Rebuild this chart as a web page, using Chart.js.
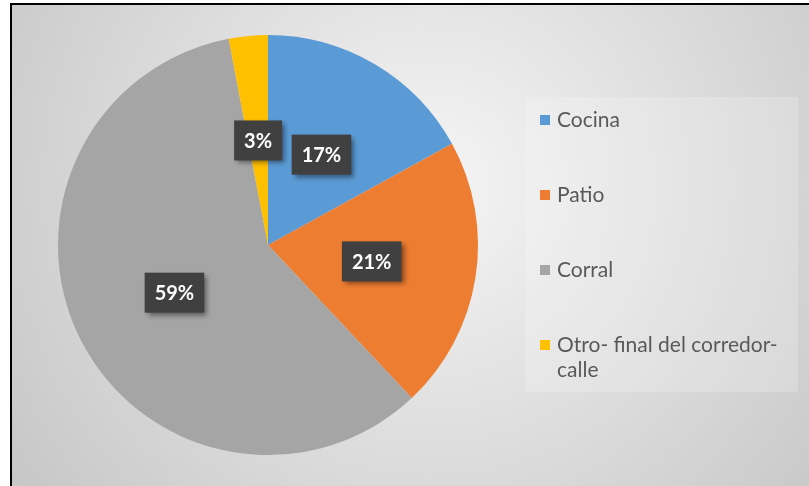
<!DOCTYPE html>
<html>
<head>
<meta charset="utf-8">
<script src="https://cdn.jsdelivr.net/npm/chart.js@4/dist/chart.umd.min.js"></script>
<style>
  html, body { margin: 0; padding: 0; background: #fff; }
  #marco {
    position: absolute; left: 10px; top: 3px;
    border-left: 2px solid #000; border-top: 2px solid #000;
    width: 797px; height: 481px;
  }
  #meinChart { display: block; }
</style>
</head>
<body>
<div id="marco"><canvas id="meinChart" width="797" height="481"></canvas></div>
<script>
// ---------------- datos
const lugares = ['Cocina', 'Patio', 'Corral', 'Otro- final del corredor-calle'];
const valores = [17, 21, 59, 3];
const colores = ['#5B9BD5', '#ED7D31', '#A5A5A5', '#FFC000'];

// fondo gris con degradado radial
const fondo = {
  id: 'fondo',
  beforeDraw(chart) {
    const ctx = chart.ctx;
    const g = ctx.createRadialGradient(420, 180, 0, 420, 180, 520);
    g.addColorStop(0, '#f5f5f5');
    g.addColorStop(1, '#c6c6c6');
    ctx.save();
    ctx.fillStyle = g;
    ctx.fillRect(0, 0, chart.width, chart.height);
    ctx.restore();
  }
};

// etiquetas de porcentaje en cajas oscuras
const etiquetas = {
  id: 'etiquetas',
  afterDatasetsDraw(chart) {
    const ctx = chart.ctx;
    const meta = chart.getDatasetMeta(0);
    const total = valores.reduce((a, b) => a + b, 0);
    ctx.save();
    ctx.font = 'bold 20px Lato';
    ctx.textAlign = 'center';
    ctx.textBaseline = 'middle';
    meta.data.forEach(function (arc, i) {
      const pos = arc.tooltipPosition();
      const txt = Math.round(valores[i] / total * 100) + '%';
      const w = ctx.measureText(txt).width + 20;
      const h = 40;
      ctx.shadowColor = 'rgba(0,0,0,0.45)';
      ctx.shadowBlur = 5;
      ctx.shadowOffsetX = 3;
      ctx.shadowOffsetY = 3;
      ctx.fillStyle = '#404040';
      ctx.fillRect(pos.x - w / 2, pos.y - h / 2, w, h);
      ctx.shadowColor = 'transparent';
      ctx.fillStyle = '#ffffff';
      ctx.fillText(txt, pos.x, pos.y + 1);
    });
    ctx.restore();
  }
};

// corta el texto en espacios y guiones
function partir(ctx, texto, maxW) {
  const trozos = texto.match(/[^\s-]+-?\s*|-\s*/g);
  const lineas = [];
  let actual = '';
  trozos.forEach(function (t) {
    const prueba = actual + t;
    if (actual && ctx.measureText(prueba.trimEnd()).width > maxW) {
      lineas.push(actual.trimEnd());
      actual = t;
    } else {
      actual = prueba;
    }
  });
  lineas.push(actual.trimEnd());
  return lineas;
}

// leyenda a la derecha
const leyenda = {
  id: 'leyenda',
  afterDraw(chart) {
    const ctx = chart.ctx;
    ctx.save();
    ctx.fillStyle = 'rgba(255,255,255,0.2)';
    ctx.fillRect(513, 92, 273, 295);
    ctx.font = '21px Lato';
    ctx.textBaseline = 'middle';
    ctx.textAlign = 'left';
    let y = 115;
    lugares.forEach(function (lugar, i) {
      ctx.fillStyle = colores[i];
      ctx.fillRect(528, y - 5, 10, 10);
      ctx.fillStyle = '#595959';
      partir(ctx, lugar, 238).forEach(function (linea, k) {
        ctx.fillText(linea, 545, y + k * 25);
      });
      y += 75;
    });
    ctx.restore();
  }
};

const data = {
  labels: lugares,
  datasets: [{
    data: valores,
    backgroundColor: colores,
    borderWidth: 0
  }]
};

const config = {
  type: 'pie',
  data: data,
  options: {
    responsive: false,
    animation: false,
    devicePixelRatio: 1,
    layout: { padding: { left: 46, right: 331, top: 30, bottom: 31 } },
    plugins: {
      legend: { display: false },
      tooltip: { enabled: false }
    }
  },
  plugins: [fondo, etiquetas, leyenda]
};

const myChart = new Chart(
  document.getElementById('meinChart'),
  config
);
</script>
</body>
</html>
